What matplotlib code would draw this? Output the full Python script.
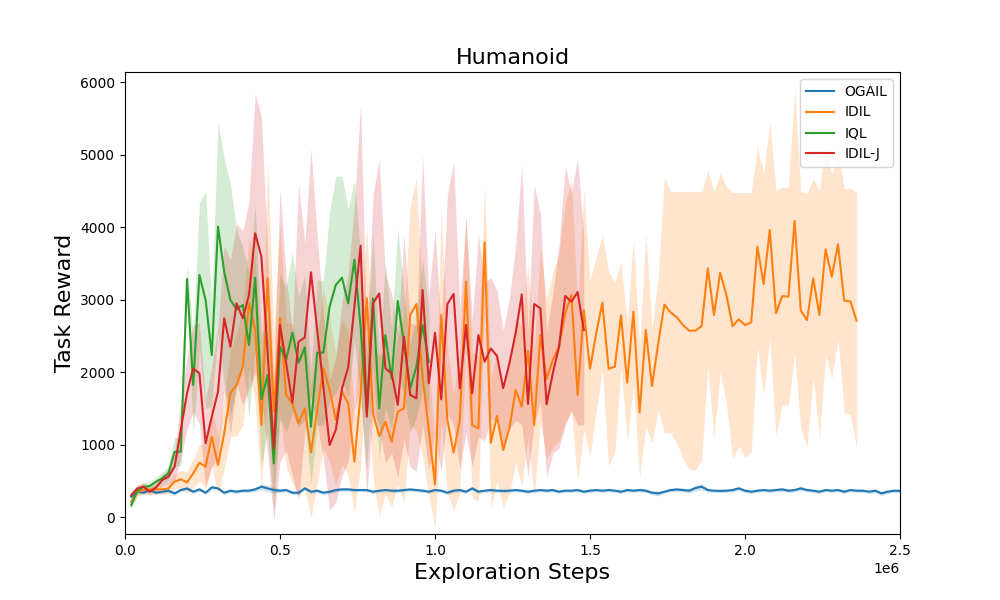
import numpy as np
import matplotlib
matplotlib.use("Agg")
import matplotlib.pyplot as plt

EVAL_INTERVAL = 20000

# OGAIL: mean / std per evaluation
ogail_mean = [280, 349, 335, 372, 335, 349, 363, 326, 372, 395, 349, 381, 335, 409, 395, 335, 363, 349, 363, 363, 381,
              418, 395, 372, 363, 372, 335, 335, 395, 349, 363, 335, 349, 372, 381, 381, 372, 372, 372, 349, 363,
              372, 363, 363, 372, 380, 372, 363, 349, 372, 363, 335, 363, 372, 349, 395, 349, 363, 372, 363, 360,
              363, 372, 363, 349, 363, 372, 363, 372, 349, 363, 363, 372, 349, 363, 372, 363, 372, 363, 349, 372,
              363, 372, 363, 335, 326, 349, 372, 380,
              372, 363, 400, 418, 372, 363, 360, 363, 372, 395, 363, 349, 363, 372, 363, 372, 381, 363, 372, 395,
              372, 363, 349, 372, 363, 372, 349, 372, 363, 363, 349, 363, 326, 349, 363, 360]
ogail_std = [30, 25, 25, 25, 25, 25, 25, 25, 25, 25, 25, 25, 25, 30, 25, 25, 25, 25, 25, 25, 30,
             40, 45, 40, 30, 25, 25, 25, 25, 25, 25, 25, 25, 25, 25, 25, 25, 25, 25, 25, 25,
             25, 25, 25, 25, 25, 25, 25, 25, 25, 25, 25, 25, 25, 25, 25, 25, 25, 25, 25, 25,
             25, 25, 25, 25, 25, 25, 25, 25, 25, 25, 25, 25, 25, 25, 25, 25, 25, 25, 25, 25,
             25, 25, 25, 30, 35, 25, 25, 30,
             30, 30, 40, 45, 30, 25, 25, 25, 25, 30, 25, 25, 25, 25, 25, 25, 30, 25, 25, 35,
             25, 25, 25, 25, 25, 25, 25, 25, 25, 25, 25, 25, 30, 25, 25, 25]

idil_mean = [211, 349, 372, 381, 381, 381, 395, 487, 520, 478,
             602, 749, 694, 1108, 717, 1154, 1706, 1821, 2073, 2947,
             2579, 1269, 3292, 1453, 2741, 1683, 1568, 1292, 1499, 887,
             1476, 2050, 1752, 1338, 1729, 1568, 763, 1700, 3016, 1430,
             1117, 1315, 1039, 1453, 1499, 2786, 2938, 1936, 1200, 451,
             2786, 1338, 887, 1338, 3246, 1269, 1223, 3789, 1025, 1393,
             924, 1223, 1752, 1522, 2294, 1269, 2510, 1903, 2166, 2349,
             2809, 3062, 1683, 2855, 2046, 2533, 2956, 2046, 2073, 2782,
             1853, 2832, 1444, 2579, 1807, 2395, 2929, 2823, 2754, 2648,
             2570, 2570, 2634, 3430, 2786, 3370, 3062, 2634, 2727, 2648,
             2685, 3729, 3214, 3959, 2809, 3048, 3039, 4083, 2846, 2717,
             3292, 2786, 3692, 3315, 3761, 2984, 2975, 2708]
idil_std = [80, 60, 60, 60, 60, 60, 80, 100, 120, 150,
            200, 250, 300, 400, 400, 500, 600, 700, 800, 900,
            1000, 900, 1600, 1100, 1300, 1000, 1100, 1000, 1100, 900,
            1000, 1100, 1000, 900, 1000, 1000, 700, 1000, 1000, 900,
            1100, 1000, 900, 1000, 1300, 1500, 1750, 1100, 900, 600,
            1500, 1000, 800, 1000, 900, 1000, 1000, 800, 900, 900,
            800, 900, 1000, 1100, 1200, 1000, 1200, 1100, 1200, 1300,
            1500, 1600, 1200, 1650, 1220, 1060, 930, 1340, 1170, 730,
            810, 1010, 900, 1340, 790, 920, 1765, 1664, 1733, 1839,
            1917, 1917, 1853, 1356, 1701, 1370, 1494, 1840, 1747, 1826,
            1789, 1379, 1526, 1494, 1701, 1499, 1508, 1820, 1641, 1747,
            1379, 1701, 1462, 1402, 1301, 1549, 1558, 1766]

iql_mean = [165, 363, 418, 427, 487, 533, 602, 901, 901, 3283,
            1821, 3338, 2993, 2234, 4004, 3384, 2993, 2866, 2924, 2372,
            3301, 1623, 1958, 740, 2349, 2174, 2543, 2129, 2340, 1246,
            2267, 2267, 2902, 3200, 3301, 2947, 3547, 2625, 1430, 3016,
            1499, 2510, 1913, 2979, 2395, 1775, 2073, 2648, 2142]
iql_std = [60, 60, 60, 60, 60, 80, 100, 200, 200, 200,
           700, 1000, 1500, 700, 1450, 1550, 1600, 1100, 800, 1000,
           1000, 900, 800, 650, 1000, 1000, 1100, 900, 1000, 800,
           1000, 1000, 1300, 1500, 1400, 1300, 1100, 1000, 800, 900,
           700, 1000, 700, 1000, 700, 600, 700, 900, 700]

idilj_mean = [303, 395, 418, 349, 407, 510, 556, 694, 1200, 1706,
              2050, 1982, 1016, 1384, 1729, 2741, 2349, 2947, 2741, 3062,
              3913, 3591, 2267, 947, 2648, 2119, 1577, 2418, 2478, 3375,
              2579, 1798, 993, 1200, 1775, 2064, 2902, 3743, 1384, 2947,
              3085, 2050, 1982, 1545, 2487, 1683, 1637, 3131, 1844, 2543,
              1623, 2938, 3076, 1775, 2648, 1706, 2510, 2142, 2326, 2221,
              1775, 2119, 2533, 3071, 1559, 2938, 2878, 1554, 1982, 2349,
              3048, 2970, 3103, 2579]
idilj_std = [50, 50, 50, 50, 60, 80, 100, 200, 400, 500,
             600, 700, 600, 700, 900, 1000, 1200, 1100, 1200, 1300,
             1930, 1930, 1400, 1000, 1880, 1200, 1000, 2180, 1300, 1710,
             1300, 1000, 900, 1000, 1200, 1300, 1400, 1960, 1100, 1500,
             1840, 1300, 1100, 1000, 1400, 1000, 1000, 1860, 1200, 1400,
             1000, 1500, 1820, 1100, 1500, 1000, 1400, 1100, 970, 900,
             800, 900, 1200, 1800, 1000, 1640, 1300, 1000, 1100, 1400,
             1790, 1500, 1840, 1300]

methods = ["OGAIL", "IDIL", "IQL", "IDIL-J"]
means = [ogail_mean, idil_mean, iql_mean, idilj_mean]
stds = [ogail_std, idil_std, iql_std, idilj_std]


def plot_curves():
    fig, ax = plt.subplots(figsize=(10, 6), dpi=100)
    for i, name in enumerate(methods):
        m = np.array(means[i], dtype=float)
        s = np.array(stds[i], dtype=float)
        steps = np.arange(1, len(m) + 1) * EVAL_INTERVAL
        ax.plot(steps, m, color="C%d" % i, label=name)
        ax.fill_between(steps, m - s, m + s, color="C%d" % i, alpha=0.2, lw=0)

    ax.set_xlim(0, 2.5e6)
    ax.set_ylim(-234, 6138)
    ax.set_title("Humanoid", fontsize=16)
    ax.set_xlabel("Exploration Steps", fontsize=16)
    ax.set_ylabel("Task Reward", fontsize=16)
    ax.legend(loc="upper right")
    fig.savefig("out.png")


if __name__ == '__main__':
    plot_curves()
